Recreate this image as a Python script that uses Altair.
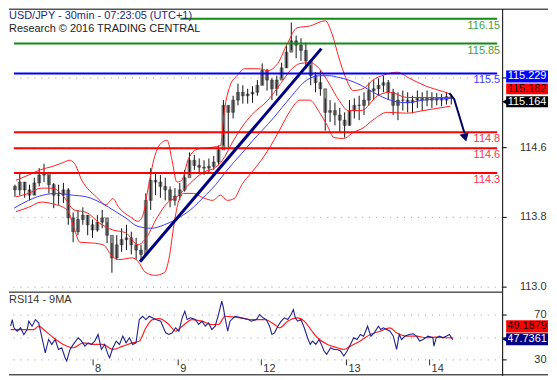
import altair as alt
import pandas as pd

FONT = "Liberation Sans"

# ---------------- price bars (1.5h bars, hours from left edge) ----------------
bar_high = [114.17,114.30,114.20,114.17,114.25,114.36,114.41,114.28,114.19,114.17,
            114.19,114.13,113.85,113.88,113.91,113.82,113.77,113.82,113.88,113.74,
            113.50,113.59,113.67,113.71,113.63,113.56,113.48,114.07,114.36,114.31,
            114.28,114.25,114.15,114.13,114.19,114.34,114.54,114.51,114.47,114.45,
            114.47,114.50,114.62,115.14,115.08,115.19,115.33,115.31,115.27,115.30,
            115.37,115.56,115.50,115.39,115.42,115.57,115.77,116.03,115.88,115.85,
            115.80,115.54,115.46,115.48,115.16,115.14,115.11,115.05,115.00,115.14,
            115.16,115.19,115.23,115.34,115.37,115.39,115.42,115.37,115.27,115.23,
            115.25,115.23,115.19,115.25,115.23,115.25,115.23,115.22,115.21,115.23,
            115.21]
bar_low = [114.03,114.05,114.02,113.99,114.05,114.15,114.20,114.07,113.90,113.94,
           113.96,113.71,113.51,113.59,113.71,113.59,113.56,113.63,113.67,113.50,
           113.16,113.31,113.40,113.42,113.37,113.31,113.29,113.42,113.88,114.05,
           114.02,113.99,113.91,113.93,113.99,114.09,114.28,114.34,114.30,114.28,
           114.31,114.34,114.39,114.62,114.60,114.93,115.08,115.10,115.10,115.11,
           115.19,115.31,115.25,115.14,115.19,115.39,115.51,115.71,115.62,115.59,
           115.50,115.31,115.23,115.19,114.79,114.89,114.85,114.77,114.71,114.85,
           114.93,114.91,114.97,115.08,115.14,115.19,115.23,115.14,114.97,114.91,
           115.02,115.00,114.99,115.05,115.02,115.07,115.05,115.08,115.07,115.09,
           115.09]
bar_close = [114.11,114.20,114.11,114.05,114.19,114.28,114.31,114.17,114.05,114.05,
             114.11,113.79,113.63,113.77,113.82,113.71,113.65,113.74,113.79,113.59,
             113.33,113.48,113.54,113.56,113.48,113.42,113.37,113.99,114.22,114.20,
             114.15,114.11,113.99,114.04,114.11,114.25,114.45,114.39,114.37,114.36,
             114.38,114.43,114.57,115.08,115.00,115.14,115.23,115.19,115.21,115.23,
             115.31,115.48,115.37,115.27,115.37,115.51,115.69,115.82,115.77,115.71,
             115.59,115.42,115.34,115.27,115.00,115.02,114.97,114.91,114.85,115.02,
             115.08,115.08,115.14,115.25,115.27,115.31,115.34,115.23,115.08,115.14,
             115.14,115.11,115.14,115.17,115.14,115.16,115.14,115.16,115.14,115.18,
             115.16]
first_open = 114.15
bar_time = [round(1.8 + 1.5 * k, 2) for k in range(len(bar_close))]
bar_open = [first_open] + bar_close[:-1]

# ---------------- indicators ----------------
upper_t = [2.1,6.0,9.6,13.5,16.5,18.6,20.1,22.5,27.0,30.0,32.1,33.9,37.5,39.9,41.4,42.9,45.0,47.1,48.9,50.4,
           51.9,53.4,55.5,58.5,63.0,65.4,66.6,68.4,70.5,72.9,77.1,80.1,83.1,86.1,89.1,93.0,97.8,99.9,102.0,104.1,
           106.5,109.5,112.5,116.1,120.0,123.9,129.0,134.1,136.5]
upper_p = [114.22,114.28,114.34,114.38,114.42,114.45,114.42,114.22,114.03,113.94,114.01,113.91,113.80,113.75,113.82,114.11,114.49,114.65,114.68,114.45,
           114.20,114.22,114.47,114.58,114.60,114.62,115.02,115.31,115.42,115.50,115.50,115.48,115.56,115.79,115.97,115.99,116.05,115.90,115.63,115.40,
           115.25,115.27,115.37,115.43,115.46,115.39,115.30,115.24,115.21]
lower_t = [2.1,6.0,9.9,13.5,18.0,20.1,21.9,26.1,29.1,32.1,33.9,38.1,39.9,42.0,45.0,48.0,49.5,51.0,52.5,54.0,
           57.0,60.0,63.0,65.4,67.5,69.6,72.0,75.0,78.0,81.0,84.0,87.0,90.0,93.0,96.0,98.4,100.5,103.5,106.5,109.5,
           112.5,117.0,123.0,128.1,136.5]
lower_p = [113.86,113.91,113.97,113.95,113.88,113.67,113.51,113.50,113.48,113.34,113.31,113.33,113.29,113.17,113.13,113.16,113.33,113.71,113.99,114.07,
           114.07,114.02,113.99,114.05,113.99,114.01,114.17,114.31,114.45,114.62,114.82,115.02,115.14,115.14,115.00,114.85,114.71,114.70,114.77,114.82,
           114.91,115.00,114.99,115.02,115.07]
mid_t = [2.1,6.0,9.9,13.5,16.5,20.1,24.0,27.9,32.1,36.0,39.9,42.0,45.9,48.9,51.9,56.1,60.0,63.9,66.0,69.0,
         72.0,75.0,80.1,84.0,87.0,90.0,93.0,96.0,99.0,102.0,105.0,108.9,114.0,117.9,123.0,128.1,136.5]
mid_p = [114.03,114.07,114.13,114.13,114.05,113.88,113.85,113.73,113.65,113.62,113.48,113.54,113.80,113.96,114.03,114.19,114.31,114.37,114.45,114.65,
         114.83,114.97,115.14,115.33,115.48,115.56,115.57,115.50,115.33,115.14,115.02,115.02,115.19,115.23,115.17,115.17,115.17]
ma_t = [1.5,6.0,10.5,15.0,19.5,24.0,28.5,33.0,36.0,39.9,44.1,48.0,52.5,57.0,60.0,63.9,67.5,72.0,75.0,81.9,
        87.0,92.1,96.0,99.0,102.0,105.0,108.9,113.1,117.9,123.0,128.1,136.5]
ma_p = [113.90,113.99,114.05,114.07,114.05,114.03,113.96,113.86,113.79,113.69,113.67,113.71,113.79,113.91,114.02,114.17,114.34,114.53,114.66,114.94,
        115.17,115.37,115.42,115.42,115.40,115.37,115.31,115.22,115.14,115.11,115.14,115.16]

# ---------------- levels / drawings ----------------
lvl_price = [116.074, 115.789, 115.446, 114.771, 114.589, 114.303]
lvl_label = ["116.15", "115.85", "115.5", "114.8", "114.6", "114.3"]
lvl_color = ["#138a13", "#138a13", "#0000ff", "#ff0000", "#ff0000", "#ff0000"]
lvl_text_color = ["#45a045", "#45a045", "#4040ff", "#ff3050", "#ff3050", "#ff3050"]
lvl_start = [53.0, 1.5, 1.5, 1.5, 1.5, 1.5]
trend_t = [40.5, 96.6]
trend_p = [113.286, 115.731]
arrow_t = [136.2, 137.7, 140.9]
arrow_p = [115.22, 115.15, 114.76]
head_t = [141.1]
head_p = [114.71]

tag_text = ["115.229", "115.182", "115.164"]
tag_top = [115.48, 115.331, 115.183]
tag_bot = [115.343, 115.206, 115.057]
tag_mid = [115.411, 115.269, 115.12]
tag_fill = ["#0000ff", "#ff0000", "#000000"]
tag_tcolor = ["#ffffff", "#200000", "#ffffff"]

# ---------------- RSI ----------------
rsi_t = [2.0,2.5,3.0,4.0,5.0,6.0,7.0,7.5,8.5,9.5,10.5,11.5,12.5,13.5,14.5,15.5,16.5,17.5,18.5,19.0,
         20.0,21.0,22.5,23.5,24.5,25.5,26.5,27.5,28.5,29.5,30.5,31.5,32.0,33.0,34.0,35.0,36.0,37.0,38.0,39.0,
         40.0,41.0,42.0,43.0,44.0,46.0,47.5,49.0,50.0,51.0,52.0,53.0,54.0,54.8,55.5,56.5,58.0,59.0,60.0,61.0,
         62.0,63.0,64.0,65.0,66.0,66.5,67.0,67.8,68.5,70.0,72.0,74.0,75.0,76.5,77.5,78.5,79.5,80.5,81.2,82.0,
         83.0,84.0,85.0,86.0,87.0,87.7,88.3,89.0,90.0,91.0,92.0,92.8,93.5,94.5,95.5,96.2,97.0,97.8,99.0,100.0,
         101.0,102.0,103.0,104.0,105.0,106.0,107.0,108.0,109.0,110.2,111.2,112.2,113.5,114.2,115.0,116.0,117.0,118.0,119.0,119.8,
         120.5,121.5,122.8,124.0,125.0,126.0,127.0,128.5,130.0,130.3,131.0,132.0,133.0,134.0,135.0,136.0]
rsi_v = [59.4,65.2,58,55,58,52,56.5,63.8,59.4,65.2,62.3,49.3,36.2,47.8,43.5,47.8,39.1,40.6,31.9,29,
         39.1,43.5,49.3,46.4,42,44.9,43.5,46.4,52.2,39.1,43.5,34.8,31.9,40.6,46.4,43.5,50.7,44.9,49.3,43.5,
         44.9,65.2,68.1,65.2,68.1,65.2,63.8,53.6,52.2,53.6,58,55,66.7,72.5,65.2,66.7,65.2,60.9,63.8,59.4,
         62.3,56.5,59.4,69.6,81.2,75.4,66.7,55,63.8,68.1,66.7,65.2,63.8,65.2,69.6,66.7,65.2,59.4,52.2,53.6,
         59.4,63.8,66.7,65.2,69.6,73.9,66.7,63.8,65.2,58,49.3,43.5,46.4,43.5,47.8,43.5,37.7,34.8,40.6,39.1,
         39.1,37.7,33.3,37.7,43.5,49.3,47.8,52.2,50.7,59.4,50.7,53.6,59.4,56.5,58,56.5,55,50.7,39.1,52.2,
         47.8,50.7,52.2,52.8,50.7,46.4,47.8,50.7,49.3,42,49.3,50.7,49.3,50.7,52.2,47.7]
rma_t = [2.0,6.0,9.0,10.5,12.0,15.0,18.0,21.0,24.0,27.0,30.0,33.0,36.0,39.0,41.0,43.0,45.0,47.0,50.0,52.0,
         54.0,57.0,60.0,63.0,65.0,67.0,70.0,73.0,75.0,79.0,82.0,83.5,86.0,89.0,91.0,93.0,95.0,98.0,101.0,103.0,
         105.0,108.0,111.0,114.0,117.0,119.0,122.0,125.0,128.0,131.0,134.0,136.0]
rma_v = [56.5,56.5,56.5,59.4,56.5,49.3,43.5,40.6,44.9,43.5,43.5,39.1,42,44.9,46.4,58,65.2,66.1,60.9,55,
         59.4,65.2,63.8,60.9,60.9,68.1,67.2,66.1,65.2,65.2,60.9,58,63.8,66.7,63.8,56.5,49.3,43.5,40.6,39.1,
         42,46.4,52.2,55,58,53.6,50.7,50.7,49.3,49.9,49.3,49.2]
rtag_text = ["49.1879", "47.7361"]
rtag_top = [64.6, 53.3]
rtag_bot = [54.0, 42.8]
rtag_mid = [59.3, 48.0]
rtag_fill = ["#ff0000", "#000080"]
rtag_tcolor = ["#200000", "#ffffff"]

day_t = [27.0, 52.8, 78.0, 103.8, 129.0]
day_lbl = ["8", "9", "12", "13", "14"]

title1 = "USD/JPY - 30min - 07:23:05 (UTC+1)"
title2 = "Research \u00a9 2016 TRADING CENTRAL"
rsi_title = "RSI14 - 9MA"

# ---------------- frames ----------------
bars = pd.DataFrame(dict(t=bar_time, o=bar_open, h=bar_high, l=bar_low, c=bar_close))
upper = pd.DataFrame(dict(t=upper_t, p=upper_p))
lower = pd.DataFrame(dict(t=lower_t, p=lower_p))
mid = pd.DataFrame(dict(t=mid_t, p=mid_p))
ma = pd.DataFrame(dict(t=ma_t, p=ma_p))
levels = pd.DataFrame(dict(p=lvl_price, label=lvl_label, color=lvl_color, tcolor=lvl_text_color,
                           start=lvl_start, end=[151.0] * len(lvl_price)))
trend = pd.DataFrame(dict(t=trend_t, p=trend_p))
arrow = pd.DataFrame(dict(t=arrow_t, p=arrow_p))
head = pd.DataFrame(dict(t=head_t, p=head_p))
tags = pd.DataFrame(dict(text=tag_text, top=tag_top, bot=tag_bot, mid=tag_mid, fill=tag_fill, tcolor=tag_tcolor))
rsi = pd.DataFrame(dict(t=rsi_t, v=rsi_v))
rma = pd.DataFrame(dict(t=rma_t, v=rma_v))
rtags = pd.DataFrame(dict(text=rtag_text, top=rtag_top, bot=rtag_bot, mid=rtag_mid, fill=rtag_fill, tcolor=rtag_tcolor))
days = pd.DataFrame(dict(t=day_t, lbl=day_lbl))
one = pd.DataFrame(dict(a=[0]))

W, H1, H2 = 495, 284, 84
xs = alt.Scale(domain=[1.5, 151], nice=False, zero=False)
ys = alt.Scale(domain=[112.943, 116.189], nice=False, zero=False)
rs = alt.Scale(domain=[16.5, 89.6], nice=False, zero=False)

common_ax = dict(orient="right", tickSize=4, tickColor="#000", domainColor="#000", domainWidth=1,
                 labelAlign="right", labelPadding=40, labelFontSize=11, labelColor="#333",
                 labelFont=FONT, grid=True, gridDash=[1, 6], gridColor="#9a9a9a", title=None)
yax = alt.Axis(values=[113.0, 113.8, 114.6, 115.4], format=".1f",
               labelExpr="datum.value > 115 ? '' : datum.label", **common_ax)
rax = alt.Axis(values=[30, 50, 70], labelExpr="datum.value == 50 ? '' : datum.label", **common_ax)


def X(f):
    return alt.X(f, type="quantitative", scale=xs, axis=None)


def Y(f):
    return alt.Y(f, type="quantitative", scale=ys, axis=yax)


def RY(f):
    return alt.Y(f, type="quantitative", scale=rs, axis=rax)


def pline(df, color, width):
    return alt.Chart(df).mark_line(color=color, strokeWidth=width, interpolate="monotone").encode(
        x=X("t"), y=Y("p"))


body = alt.Chart(bars).mark_bar(size=3, color="#8c8c8c", stroke="#333", strokeWidth=0.5).encode(
    x=X("t"), y=Y("o"), y2="c")
wick = alt.Chart(bars).mark_rule(color="#151515", strokeWidth=1).encode(x=X("t"), y=Y("l"), y2="h")

lvl_rule = alt.Chart(levels).mark_rule(strokeWidth=2).encode(
    x=X("start"), x2="end", y=Y("p"), color=alt.Color("color:N", scale=None))
lvl_text = alt.Chart(levels).mark_text(align="right", baseline="top", dy=1, fontSize=11, font=FONT).encode(
    x=alt.value(493), y=Y("p"), text="label:N", color=alt.Color("tcolor:N", scale=None))

trend_line = alt.Chart(trend).mark_line(color="#000080", strokeWidth=3).encode(x=X("t"), y=Y("p"))
arrow_line = alt.Chart(arrow).mark_line(color="#000060", strokeWidth=2).encode(x=X("t"), y=Y("p"))
arrow_head = alt.Chart(head).mark_point(shape="triangle-down", filled=True, size=90, angle=345,
                                        color="#000060", opacity=1).encode(x=X("t"), y=Y("p"))

tag_rect = alt.Chart(tags).mark_rect().encode(
    x=alt.value(499), x2=alt.value(541), y=Y("top"), y2="bot", color=alt.Color("fill:N", scale=None))
tag_txt = alt.Chart(tags).mark_text(align="center", baseline="middle", fontSize=11, font=FONT).encode(
    x=alt.value(520), y=Y("mid"), text="text:N", color=alt.Color("tcolor:N", scale=None))
tag_ptr = alt.Chart(tags.iloc[[2]]).mark_point(shape="triangle-left", filled=True, size=45, color="#000",
                                               opacity=1).encode(x=alt.value(498), y=Y("mid"))

t1 = alt.Chart(one).mark_text(align="left", baseline="top", fontSize=11, font=FONT, color="#1e2a78",
                              text=title1).encode(x=alt.value(0), y=alt.value(1))
t2 = alt.Chart(one).mark_text(align="left", baseline="top", fontSize=11, font=FONT, color="#222",
                              text=title2).encode(x=alt.value(0), y=alt.value(14))
top_border = alt.Chart(one).mark_rule(color="#000", strokeWidth=1).encode(
    x=alt.value(0), x2=alt.value(541), y=alt.value(0.5))

main = alt.layer(
    body, wick,
    pline(upper, "#ff2020", 1), pline(mid, "#ff2020", 1), pline(lower, "#ff2020", 1),
    pline(ma, "#3a3aff", 1),
    lvl_rule, lvl_text, trend_line, arrow_line, arrow_head,
    tag_rect, tag_txt, tag_ptr, t1, t2, top_border,
).properties(width=W, height=H1)

rma_line = alt.Chart(rma).mark_line(color="#ff2020", strokeWidth=1.2, interpolate="monotone").encode(
    x=X("t"), y=RY("v"))
rsi_line = alt.Chart(rsi).mark_line(color="#23238e", strokeWidth=1.1).encode(x=X("t"), y=RY("v"))
rtag_rect = alt.Chart(rtags).mark_rect().encode(
    x=alt.value(499), x2=alt.value(541), y=RY("top"), y2="bot", color=alt.Color("fill:N", scale=None))
rtag_txt = alt.Chart(rtags).mark_text(align="center", baseline="middle", fontSize=11, font=FONT).encode(
    x=alt.value(520), y=RY("mid"), text="text:N", color=alt.Color("tcolor:N", scale=None))
rtag_ptr = alt.Chart(rtags.iloc[[1]]).mark_point(shape="triangle-left", filled=True, size=45,
                                                 color="#000080", opacity=1).encode(x=alt.value(498), y=RY("mid"))
day_tick = alt.Chart(days).mark_rule(color="#333").encode(x=X("t"), y=alt.value(68), y2=alt.value(74))
day_txt = alt.Chart(days).mark_text(align="left", baseline="middle", dx=2, fontSize=11, font=FONT,
                                    color="#333").encode(x=X("t"), y=alt.value(78), text="lbl:N")
rsi_lab = alt.Chart(one).mark_text(align="left", baseline="middle", fontSize=11, font=FONT, color="#333",
                                   text=rsi_title).encode(x=alt.value(0), y=alt.value(8))
sep = alt.Chart(one).mark_rule(color="#000", strokeWidth=1).encode(
    x=alt.value(0), x2=alt.value(W), y=alt.value(0.5))
bottom = alt.Chart(one).mark_rule(color="#000", strokeWidth=1).encode(
    x=alt.value(0), x2=alt.value(541), y=alt.value(83.5))

lower_panel = alt.layer(
    rma_line, rsi_line, rtag_rect, rtag_txt, rtag_ptr, day_tick, day_txt, rsi_lab, sep, bottom
).properties(width=W, height=H2)

chart = alt.vconcat(main, lower_panel, spacing=0, bounds="flush").properties(
    padding={"left": 0, "top": 0, "right": 0, "bottom": 0}
).configure_view(stroke=None).configure_axis(labelFont=FONT)

chart.save("out.html", embed_options={"renderer": "svg", "actions": False})
